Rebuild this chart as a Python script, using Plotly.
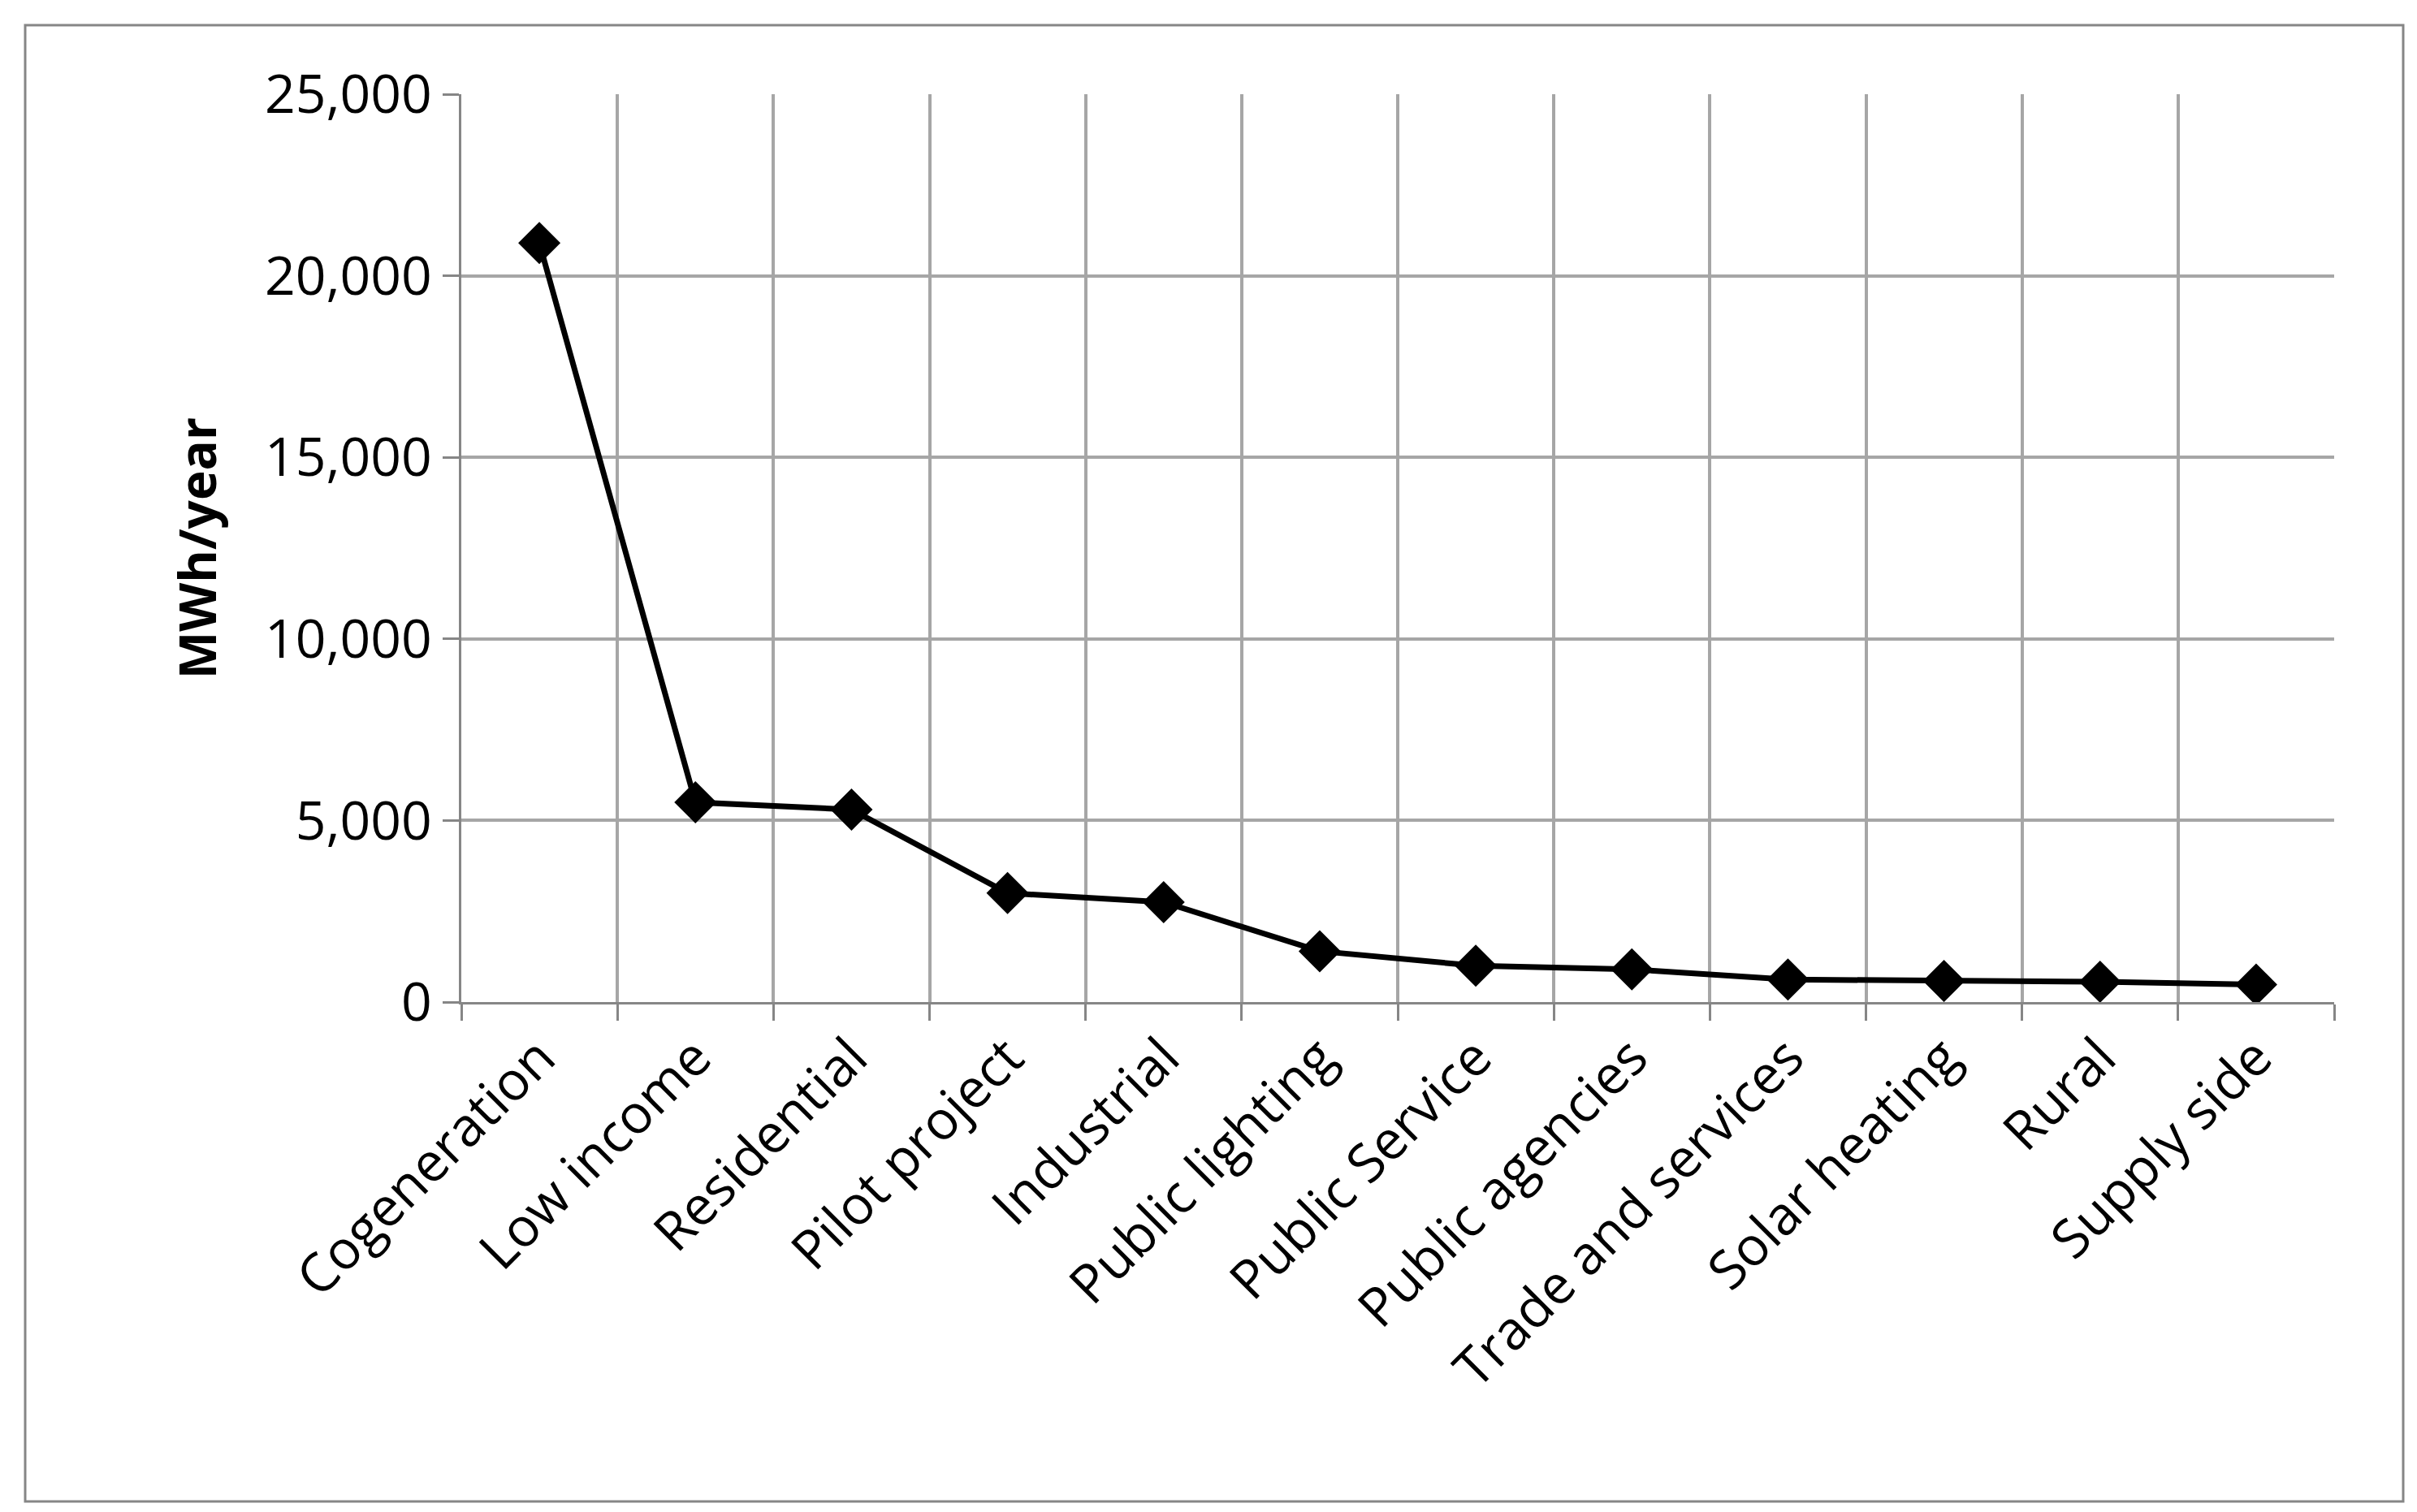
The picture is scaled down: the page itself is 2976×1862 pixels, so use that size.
import plotly.graph_objects as go

categories = ["Cogeneration", "Low income", "Residential", "Pilot project", "Industrial",
              "Public lighting", "Public Service", "Public agencies", "Trade and services",
              "Solar heating", "Rural", "Supply side"]
values = [20900, 5500, 5300, 3000, 2750, 1400, 1000, 900, 620, 580, 560, 480]
y_ticks = [0, 5000, 10000, 15000, 20000, 25000]
y_labels = ["0", "5,000", "10,000", "15,000", "20,000", "25,000"]

xpos = [i + 0.5 for i in range(len(categories))]
W, H = 2976, 1862
L, R, T, B = 560, 2976 - 2866, 108, 1862 - 1226

fig = go.Figure(go.Scatter(
    x=xpos, y=values, mode="lines+markers",
    line=dict(color="black", width=7),
    marker=dict(symbol="diamond", size=40, color="black"),
))
font = "Open Sans"
fig.update_layout(
    width=W, height=H, margin=dict(l=L, r=R, t=T, b=B),
    paper_bgcolor="white", plot_bgcolor="white", showlegend=False,
    font=dict(family=font, size=66, color="black"),
    xaxis=dict(range=[0, len(categories)], tickvals=xpos, ticktext=categories,
               tickangle=-45, showgrid=False, ticks="", zeroline=False,
               showline=True, linecolor="#868686", linewidth=3,
               minor=dict(tickvals=list(range(len(categories) + 1)), showgrid=True,
                          gridcolor="#a6a6a6", gridwidth=3.5, ticks="outside",
                          ticklen=20, tickcolor="#868686", tickwidth=3)),
    yaxis=dict(range=[0, 25000], tickvals=y_ticks, ticktext=y_labels,
               showgrid=True, gridcolor="#a6a6a6", gridwidth=3.5, zeroline=False,
               showline=True, linecolor="#868686", linewidth=3,
               ticks="outside", ticklen=20, tickcolor="#868686", tickwidth=3,
               title=dict(text="<b>MWh/year</b>", font=dict(size=62), standoff=40)),
)
fig.add_shape(type="rect", xref="paper", yref="paper",
              x0=(23 - L) / (W - L - R), x1=(2951 - L) / (W - L - R),
              y0=(H - B - 1841) / (H - T - B), y1=(H - B - 23) / (H - T - B),
              line=dict(color="#868686", width=3), layer="below")
fig.write_html("out.html")
